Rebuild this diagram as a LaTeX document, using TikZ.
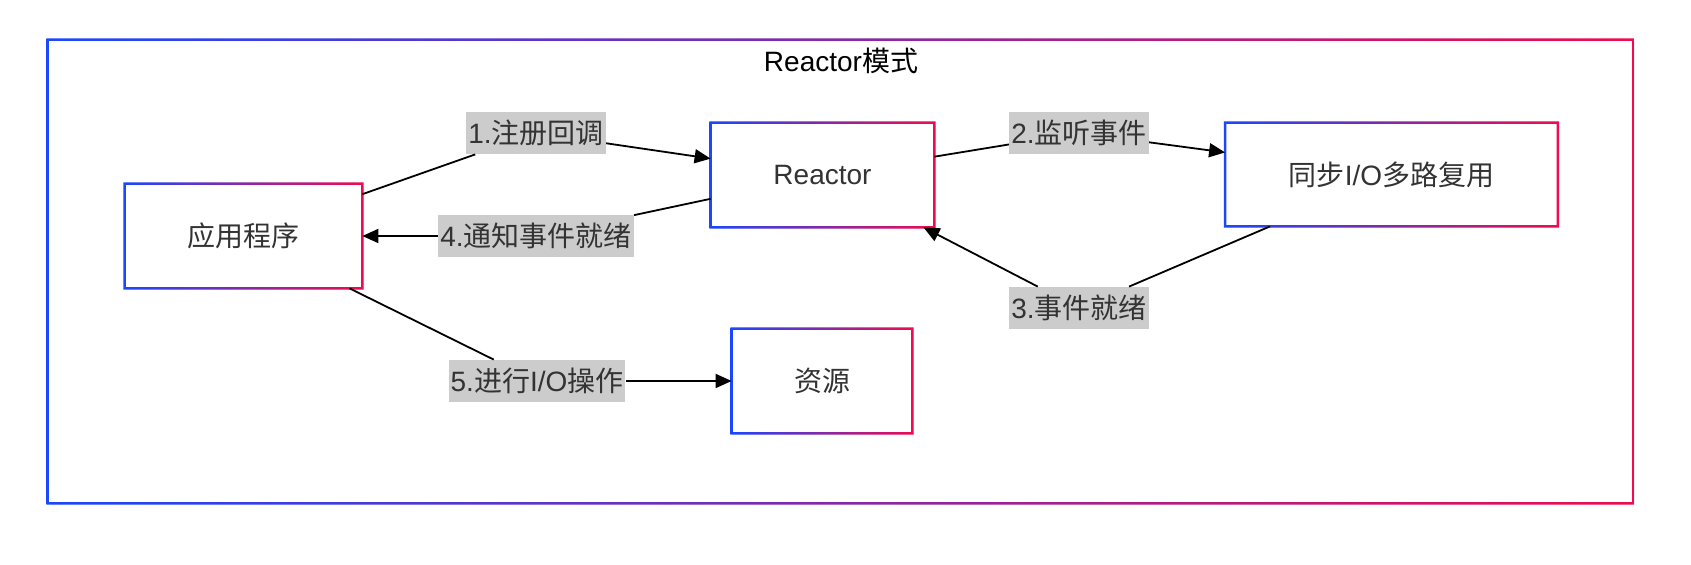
\documentclass[tikz,border=0pt]{standalone}
\usepackage{fontspec}
\setmainfont{Liberation Sans}
\newfontfamily\cjk{Noto Sans CJK SC}
\usetikzlibrary{arrows.meta,shadows}
\definecolor{gblue}{RGB}{26,71,255}
\definecolor{gred}{RGB}{240,10,80}
\definecolor{txt}{RGB}{51,51,51}
\definecolor{lbl}{RGB}{204,204,204}
\newcommand\gframe[1]{\shade[left color=gblue,right color=gred,even odd rule]
  ([shift={(-0.6pt,-0.6pt)}]#1.south west) rectangle ([shift={(0.6pt,0.6pt)}]#1.north east)
  ([shift={(0.6pt,0.6pt)}]#1.south west) rectangle ([shift={(-0.6pt,-0.6pt)}]#1.north east);}
\begin{document}
\begin{tikzpicture}[x=0.5pt,y=-0.5pt,
  txtfont/.style={font=\fontsize{14pt}{16pt}\selectfont},
  box/.style={fill=white, text=txt, txtfont, inner sep=0pt,
    drop shadow={shadow xshift=0.8pt,shadow yshift=-0.8pt,opacity=0.10}},
  lab/.style={fill=lbl, text=txt, txtfont, inner xsep=1pt, inner ysep=0pt, minimum height=21pt},
  edge/.style={line width=0.9pt, draw=black},
  arr/.style={edge, -{Triangle[length=8pt,width=7pt]}}]
\useasboundingbox (0,0) rectangle (1691,565);
% frame
\node[box, minimum width=792.5pt, minimum height=231.5pt] (frame) at (840.5,271.5) {};
\gframe{frame}
\node[txtfont, text=black] (title) at (841,61) {Reactor{\cjk 模式}};
% boxes
\node[box, minimum width=118.5pt, minimum height=52pt] (app) at (243.5,236) {\cjk 应用程序};
\gframe{app}
\node[box, minimum width=111.5pt, minimum height=52pt] (reactor) at (822.5,175) {Reactor};
\gframe{reactor}
\node[box, minimum width=166pt, minimum height=51.5pt] (mux) at (1391.5,174.5) {{\cjk 同步}I/O{\cjk 多路复用}};
\gframe{mux}
\node[box, minimum width=90pt, minimum height=52pt] (res) at (822,381) {\cjk 资源};
\gframe{res}
% labels
\node[lab] (l1) at (536,133) {1.{\cjk 注册回调}};
\node[lab] (l4) at (536,236) {4.{\cjk 通知事件就绪}};
\node[lab] (l2) at (1079,133) {2.{\cjk 监听事件}};
\node[lab] (l3) at (1079,308) {3.{\cjk 事件就绪}};
\node[lab] (l5) at (537,381) {5.{\cjk 进行}I/O{\cjk 操作}};
% edges
\draw[edge] (app) -- (l1); \draw[arr] (l1) -- (reactor);
\draw[edge] (reactor) -- (l2); \draw[arr] (l2) -- (mux);
\draw[edge] (mux) -- (l3); \draw[arr] (l3) -- (reactor);
\draw[edge] (reactor) -- (l4); \draw[arr] (l4) -- (app);
\draw[edge] (app) -- (l5); \draw[arr] (l5) -- (res);
\end{tikzpicture}
\end{document}
